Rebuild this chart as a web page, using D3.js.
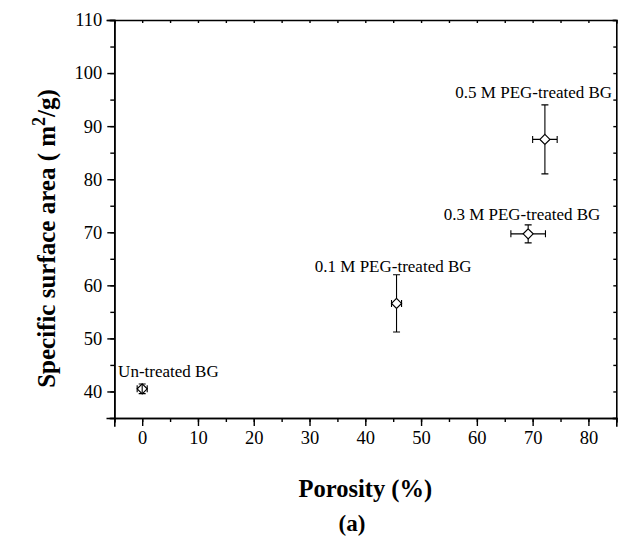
<!DOCTYPE html>
<html>
<head>
<meta charset="utf-8">
<script src="https://cdn.jsdelivr.net/npm/d3@7"></script>
<style>
  html, body { margin: 0; padding: 0; background: #fff; }
  svg { display: block; }
  text { font-family: "Liberation Serif", "Times New Roman", Times, serif; fill: #000; }
</style>
</head>
<body>
<svg id="chart" width="619" height="546"></svg>
<script>
// ---- data ----
const names = ["Un-treated BG", "0.1 M PEG-treated BG", "0.3 M PEG-treated BG", "0.5 M PEG-treated BG"];
const porosity = [0, 45.6, 69.2, 72.2];
const porosityErr = [0.9, 0.9, 3.1, 2.2];
const area = [40.5, 56.6, 69.7, 87.5];
const areaErr = [0.9, 5.4, 1.7, 6.5];
// label anchors (data units: centre x, baseline y)
const labelX = [4.7, 45.0, 68.1, 70.2];
const labelY = [42.8, 62.6, 72.4, 95.3];
const xTicks = [0, 10, 20, 30, 40, 50, 60, 70, 80];
const yTicks = [40, 50, 60, 70, 80, 90, 100, 110];
const xDomain = [-5, 85];
const yDomain = [35, 110];

// ---- layout ----
const svg = d3.select("#chart");
const L = 114.3, T = 20, R = 616.3, B = 418;
const x = d3.scaleLinear().domain(xDomain).range([L, R]);
const y = d3.scaleLinear().domain(yDomain).range([B, T]);

const minorX = d3.range(xDomain[0], xDomain[1] + 0.1, 5);
const minorY = d3.range(yDomain[0], yDomain[1] + 0.1, 5);

// bottom axis
const gx = svg.append("g").attr("transform", `translate(0,${B})`)
  .call(d3.axisBottom(x).tickValues(minorX).tickSize(4).tickFormat(""));
const gx2 = svg.append("g").attr("transform", `translate(0,${B})`)
  .call(d3.axisBottom(x).tickValues(xTicks).tickSize(8).tickPadding(5).tickFormat(d3.format("d")));
// left axis
const gy = svg.append("g").attr("transform", `translate(${L},0)`)
  .call(d3.axisLeft(y).tickValues(minorY).tickSize(4).tickFormat(""));
const gy2 = svg.append("g").attr("transform", `translate(${L},0)`)
  .call(d3.axisLeft(y).tickValues(yTicks).tickSize(7).tickPadding(5).tickFormat(d3.format("d")));
// top axis (inward small ticks)
const gt = svg.append("g").attr("transform", `translate(0,${T})`)
  .call(d3.axisTop(x).tickValues(minorX).tickSize(-3).tickFormat(""));
// right axis
const gr = svg.append("g").attr("transform", `translate(${R},0)`)
  .call(d3.axisRight(y).tickValues(minorY).tickSize(-3).tickFormat(""));

[gx, gx2, gy, gy2, gt, gr].forEach(g => {
  g.attr("font-family", null);
  g.selectAll("path.domain").attr("stroke", "#000").attr("stroke-width", 1.6).attr("stroke-linecap", "square");
  g.selectAll(".tick line").attr("stroke", "#000").attr("stroke-width", 1.4);
  g.selectAll(".tick text").style("font-family", "'Liberation Serif', 'Times New Roman', serif")
    .style("font-size", "18.5px").attr("fill", "#000");
});

// ---- points ----
const r = 5, cap = 3.5;
const pts = svg.append("g");
names.forEach((n, i) => {
  const cx = x(porosity[i]), cy = y(area[i]);
  pts.append("path")
    .attr("d", `M${cx},${cy - r}L${cx + r},${cy}L${cx},${cy + r}L${cx - r},${cy}Z`)
    .attr("fill", "#fff").attr("stroke", "#000").attr("stroke-width", 1.2);
  const ex = x(porosity[i] + porosityErr[i]) - cx;
  const ey = cy - y(area[i] + areaErr[i]);
  const sx = ex > r ? r : 0, sy = ey > r ? r : 0;
  const eb = pts.append("g").attr("stroke", "#000").attr("stroke-width", 1.1).attr("fill", "none");
  eb.append("path").attr("d",
    `M${cx},${cy - sy}V${cy - ey}M${cx - cap},${cy - ey}H${cx + cap}` +
    `M${cx},${cy + sy}V${cy + ey}M${cx - cap},${cy + ey}H${cx + cap}`);
  eb.append("path").attr("d",
    `M${cx - sx},${cy}H${cx - ex}M${cx - ex},${cy - cap}V${cy + cap}` +
    `M${cx + sx},${cy}H${cx + ex}M${cx + ex},${cy - cap}V${cy + cap}`);
  svg.append("text").attr("x", x(labelX[i])).attr("y", y(labelY[i]))
    .attr("text-anchor", "middle").style("font-size", "17px").text(n);
});

// ---- titles ----
svg.append("text").attr("x", (L + R) / 2).attr("y", 497)
  .attr("text-anchor", "middle").style("font-size", "24.5px").style("font-weight", "bold")
  .text("Porosity (%)");
svg.append("text").attr("x", 352).attr("y", 531)
  .attr("text-anchor", "middle").style("font-size", "23px").style("font-weight", "bold")
  .text("(a)");
const yt = svg.append("text")
  .attr("transform", `translate(55,238.5) rotate(-90)`)
  .attr("text-anchor", "middle").style("font-size", "25px").style("font-weight", "bold");
yt.append("tspan").text("Specific surface area ( m");
yt.append("tspan").attr("dy", -10).style("font-size", "18px").text("2");
yt.append("tspan").attr("dy", 10).text("/g)");
</script>
</body>
</html>
